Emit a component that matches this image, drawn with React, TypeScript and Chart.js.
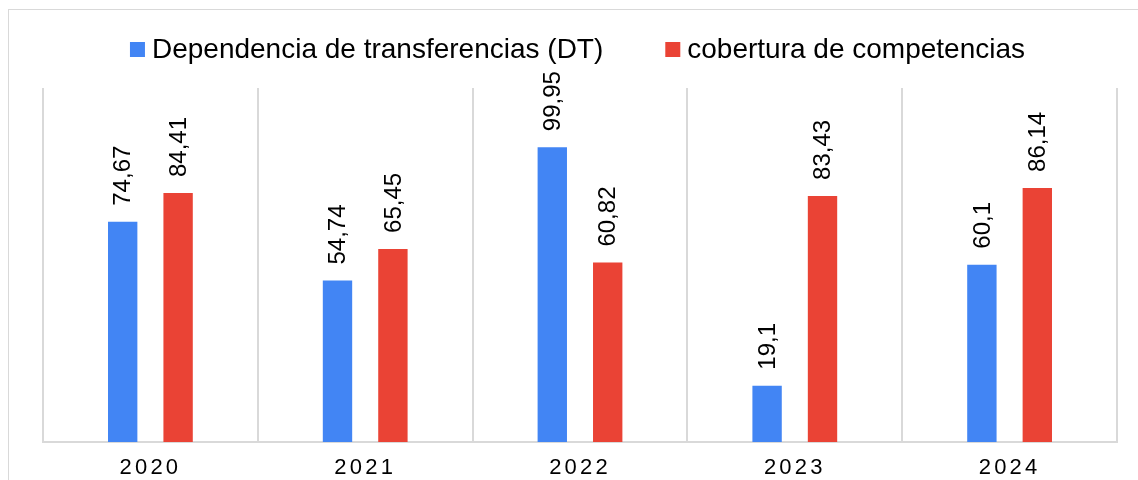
import React, { useEffect, useRef } from "react";
import { Chart, registerables } from "chart.js";

Chart.register(...registerables);

const categories = ["2020", "2021", "2022", "2023", "2024"];
const seriesNames = ["Dependencia de transferencias (DT)", "cobertura de competencias"];
const dependenciaDT = [74.67, 54.74, 99.95, 19.1, 60.1];
const coberturaCompetencias = [84.41, 65.45, 60.82, 83.43, 86.14];
const seriesColors = ["#4285F4", "#EA4335"];

const FONT = "'Liberation Sans', Arial, sans-serif";

const fmt = (v: number) => String(v).replace(".", ",");

const tickSpacingPlugin = {
  id: "tickSpacing",
  beforeDraw(chart: any) {
    (chart.ctx as any).letterSpacing = "3.2px";
  },
  beforeDatasetsDraw(chart: any) {
    (chart.ctx as any).letterSpacing = "0px";
  },
};

const valueLabelsPlugin = {
  id: "valueLabels",
  afterDatasetsDraw(chart: any) {
    const ctx = chart.ctx;
    ctx.save();
    (ctx as any).letterSpacing = "0px";
    ctx.font = `24px ${FONT}`;
    ctx.fillStyle = "#000";
    ctx.textAlign = "left";
    ctx.textBaseline = "middle";
    chart.data.datasets.forEach((ds: any, di: number) => {
      const meta = chart.getDatasetMeta(di);
      meta.data.forEach((bar: any, i: number) => {
        const v = ds.data[i];
        ctx.save();
        ctx.translate(bar.x + 1, bar.y - 16);
        ctx.rotate(-Math.PI / 2);
        ctx.fillText(fmt(v), 0, 0);
        ctx.restore();
      });
    });
    ctx.restore();
  },
};

const customLegendPlugin = {
  id: "customLegend",
  afterDraw(chart: any) {
    const ctx = chart.ctx;
    ctx.save();
    (ctx as any).letterSpacing = "0px";
    ctx.font = `28px ${FONT}`;
    ctx.textBaseline = "middle";
    ctx.textAlign = "left";
    const box = 15;
    const boxGap = 7;
    const itemGap = 62;
    const names = chart.data.datasets.map((d: any) => d.label);
    const widths = names.map((n: string) => ctx.measureText(n).width);
    let total = 0;
    widths.forEach((w: number, i: number) => {
      total += box + boxGap + w + (i > 0 ? itemGap : 0);
    });
    let x = chart.width / 2 + 4 - total / 2;
    const cy = 39;
    names.forEach((n: string, i: number) => {
      ctx.fillStyle = chart.data.datasets[i].backgroundColor;
      ctx.fillRect(x, cy - 7, box, box);
      ctx.fillStyle = "#000";
      ctx.fillText(n, x + box + boxGap, cy + 1);
      x += box + boxGap + widths[i] + itemGap;
    });
    ctx.restore();
  },
};

export default function App() {
  const ref = useRef<HTMLCanvasElement | null>(null);

  useEffect(() => {
    if (!ref.current) return;
    const chart = new Chart(ref.current, {
      type: "bar",
      data: {
        labels: categories,
        datasets: [
          {
            label: seriesNames[0],
            data: dependenciaDT,
            backgroundColor: seriesColors[0],
            categoryPercentage: 0.516,
            barPercentage: 0.53,
          },
          {
            label: seriesNames[1],
            data: coberturaCompetencias,
            backgroundColor: seriesColors[1],
            categoryPercentage: 0.516,
            barPercentage: 0.53,
          },
        ],
      },
      options: {
        animation: false,
        responsive: false,
        maintainAspectRatio: false,
        layout: { padding: { top: 78, left: 34, right: 21, bottom: 0 } },
        plugins: {
          legend: { display: false },
          tooltip: { enabled: false },
        },
        scales: {
          x: {
            offset: true,
            grid: {
              offset: true,
              color: "#d9d9d9",
              lineWidth: 2,
              drawTicks: false,
            },
            border: { display: true, color: "#d9d9d9", width: 2 },
            ticks: {
              padding: 13,
              color: "#000",
              font: { family: FONT, size: 22 },
              maxRotation: 0,
            },
            afterFit: (scale: any) => {
              scale.height = 38;
            },
          },
          y: {
            display: false,
            min: 0,
            max: 120,
          },
        },
      },
      plugins: [tickSpacingPlugin, valueLabelsPlugin, customLegendPlugin],
    });
    return () => chart.destroy();
  }, []);

  return (
    <div
      style={{
        position: "absolute",
        left: 8,
        top: 9,
        width: 1130,
        height: 471,
        boxSizing: "border-box",
        borderTop: "1px solid #d9d9d9",
        borderLeft: "1px solid #d9d9d9",
        background: "#fff",
      }}
    >
      <canvas ref={ref} width={1129} height={470} style={{ display: "block" }} />
    </div>
  );
}
